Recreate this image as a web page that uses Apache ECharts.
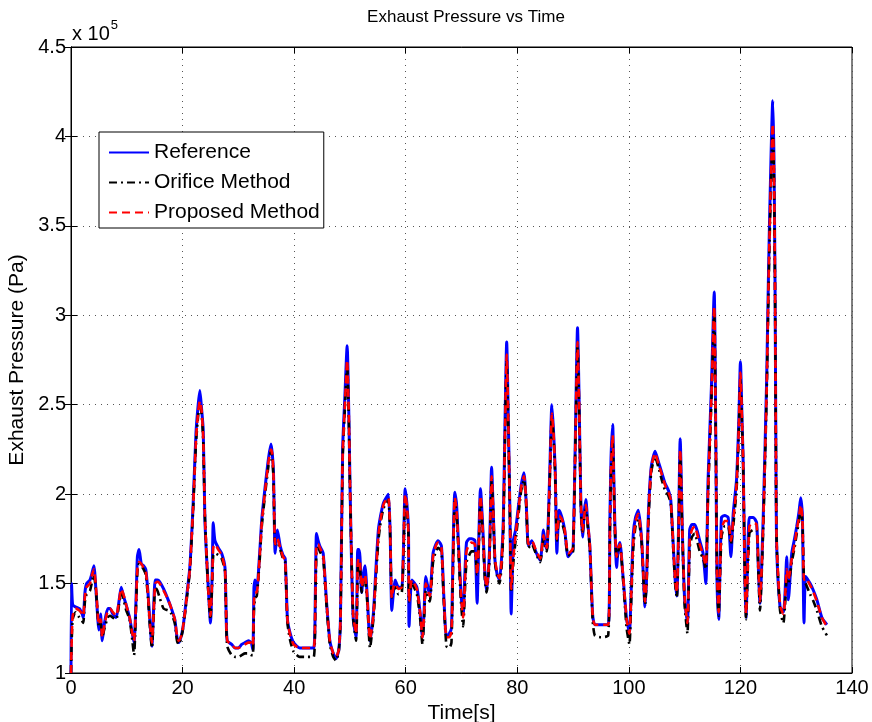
<!DOCTYPE html>
<html>
<head>
<meta charset="utf-8">
<script src="https://cdn.jsdelivr.net/npm/echarts@6/dist/echarts.min.js"></script>
<style>
html,body{margin:0;padding:0;background:#fff;}
#chart{width:872px;height:722px;}
</style>
</head>
<body>
<div id="chart"></div>
<script>
// Time [s]
var time = [0.0,0.1,0.3,0.8,1.5,2.0,2.2,2.5,2.8,3.4,3.7,4.1,4.5,5.0,5.3,5.6,6.0,6.6,7.0,7.5,8.1,8.6,9.0,9.5,9.9,10.5,11.0,11.3,11.7,11.9,12.2,12.6,13.0,13.4,13.8,14.1,14.5,14.8,15.1,15.5,15.9,16.6,17.4,18.0,18.6,19.0,19.3,19.7,20.1,20.7,21.3,21.9,22.4,22.8,23.1,23.4,23.7,24.0,24.3,24.6,25.0,25.3,25.5,25.8,26.4,27.0,27.6,27.8,28.0,28.8,29.4,30.0,30.6,31.2,31.8,32.3,32.6,32.8,33.0,33.3,33.8,34.2,34.8,35.4,35.85,36.1,36.3,36.6,37.0,37.5,38.0,38.4,38.8,39.3,39.9,41.0,42.3,43.5,43.8,44.0,44.3,44.6,45.2,45.8,46.4,47.0,47.5,48.0,48.3,48.7,49.1,49.5,49.8,50.0,50.3,50.6,51.1,51.4,51.6,51.8,52.1,52.4,52.7,53.1,53.6,54.2,54.6,55.1,55.5,56.0,56.5,56.9,57.2,57.5,57.8,58.1,58.7,59.3,59.6,59.9,60.2,60.5,60.6,61.1,62.0,62.6,63.0,63.3,63.6,64.3,64.9,65.4,65.8,66.4,66.8,67.3,67.8,68.2,68.5,68.8,69.1,69.4,69.9,70.3,70.6,70.9,71.4,71.8,72.4,72.8,73.1,73.4,73.9,74.2,74.5,75.0,75.4,75.7,76.0,76.4,76.8,77.2,77.5,77.8,78.1,78.4,78.7,78.9,79.3,79.7,80.2,80.7,81.2,81.6,82.0,82.6,83.3,84.1,84.7,85.0,85.3,85.8,86.2,86.5,86.8,87.1,87.5,88.0,88.5,89.1,89.6,90.0,90.4,90.8,91.1,91.4,91.7,92.0,92.3,92.6,93.0,93.5,93.9,95.0,96.3,96.6,96.8,97.1,97.3,97.5,97.8,98.1,98.4,98.9,99.6,100.1,100.4,100.8,101.2,101.7,102.3,102.9,103.2,103.5,104.0,104.7,105.3,105.9,106.5,107.1,107.5,107.9,108.3,108.6,108.9,109.2,109.6,110.0,110.5,110.9,111.3,111.8,112.3,112.7,113.3,113.8,114.2,114.8,115.3,115.6,115.8,116.1,116.6,117.2,117.8,118.3,118.7,119.3,119.7,120.0,120.3,120.5,120.8,121.0,121.6,122.3,122.9,123.2,123.5,124.1,124.7,124.9,125.2,125.8,126.0,126.2,126.35,126.5,127.1,127.7,128.0,128.3,128.6,129.2,129.7,130.1,130.5,130.8,131.1,131.4,131.7,132.5,133.1,133.7,134.6,135.5];

// Exhaust pressure, in units of 10^5 Pa
var reference = [1.00,1.50,1.38,1.37,1.36,1.33,1.31,1.45,1.50,1.52,1.55,1.60,1.45,1.24,1.33,1.18,1.28,1.36,1.36,1.33,1.31,1.40,1.48,1.42,1.38,1.31,1.22,1.17,1.45,1.65,1.69,1.61,1.60,1.58,1.45,1.31,1.15,1.35,1.52,1.52,1.51,1.47,1.41,1.36,1.30,1.20,1.17,1.20,1.26,1.42,1.59,1.95,2.34,2.50,2.58,2.48,2.36,1.86,1.65,1.48,1.28,1.55,1.84,1.74,1.70,1.67,1.59,1.35,1.18,1.16,1.14,1.14,1.16,1.17,1.18,1.17,1.13,1.48,1.52,1.46,1.66,1.86,2.04,2.20,2.28,2.22,2.12,1.67,1.80,1.71,1.66,1.64,1.30,1.22,1.17,1.14,1.14,1.14,1.45,1.78,1.74,1.71,1.67,1.40,1.18,1.11,1.08,1.13,1.30,2.26,2.55,2.83,2.45,2.08,1.60,1.30,1.20,1.69,1.69,1.65,1.45,1.55,1.60,1.43,1.18,1.33,1.55,1.80,1.88,1.95,1.98,2.00,1.80,1.35,1.45,1.52,1.48,1.48,1.70,2.03,1.95,1.80,1.26,1.52,1.48,1.33,1.20,1.35,1.54,1.43,1.67,1.72,1.74,1.71,1.45,1.20,1.22,1.25,1.70,2.01,1.95,1.76,1.45,1.33,1.55,1.73,1.75,1.75,1.74,1.39,1.75,2.03,1.76,1.55,1.46,1.67,2.15,1.90,1.63,1.55,1.52,1.65,1.86,2.40,2.85,2.40,1.86,1.33,1.74,1.80,1.93,2.05,2.12,1.95,1.71,1.74,1.68,1.63,1.80,1.72,1.69,2.10,2.50,2.35,2.13,1.67,1.91,1.87,1.80,1.65,1.67,1.69,2.30,2.93,2.50,1.95,1.76,1.90,1.97,1.85,1.71,1.33,1.27,1.27,1.27,1.86,2.20,2.39,2.10,1.82,1.59,1.70,1.73,1.56,1.30,1.23,1.45,1.78,1.87,1.91,1.74,1.37,1.55,1.89,2.15,2.24,2.18,2.12,2.06,2.02,1.97,1.75,1.52,1.43,1.80,2.31,1.78,1.41,1.28,1.80,1.83,1.83,1.79,1.74,1.67,1.50,2.08,2.60,3.13,2.26,1.52,1.30,1.87,1.88,1.87,1.65,1.89,2.08,2.40,2.74,2.40,2.17,1.52,1.31,1.87,1.87,1.84,1.60,1.39,1.89,2.64,3.00,3.50,4.20,3.90,3.20,2.30,1.71,1.37,1.34,1.45,1.65,1.41,1.67,1.75,1.82,1.90,1.98,1.89,1.28,1.54,1.50,1.46,1.41,1.31,1.27];

var orifice = [1.00,1.15,1.30,1.34,1.31,1.29,1.28,1.40,1.44,1.46,1.50,1.55,1.45,1.26,1.28,1.20,1.25,1.31,1.32,1.31,1.30,1.38,1.45,1.40,1.35,1.30,1.18,1.10,1.40,1.57,1.61,1.60,1.58,1.55,1.42,1.28,1.14,1.30,1.48,1.46,1.42,1.36,1.35,1.33,1.28,1.18,1.16,1.19,1.25,1.40,1.57,1.92,2.28,2.44,2.50,2.45,2.30,1.88,1.66,1.46,1.30,1.50,1.66,1.67,1.66,1.64,1.57,1.33,1.15,1.10,1.09,1.09,1.10,1.11,1.11,1.10,1.10,1.35,1.42,1.43,1.62,1.82,2.00,2.16,2.24,2.20,2.08,1.72,1.73,1.69,1.64,1.62,1.28,1.18,1.12,1.09,1.09,1.09,1.38,1.68,1.70,1.68,1.64,1.38,1.16,1.09,1.07,1.12,1.28,2.20,2.48,2.72,2.42,2.05,1.62,1.30,1.18,1.58,1.62,1.60,1.45,1.50,1.52,1.40,1.14,1.30,1.50,1.74,1.84,1.92,1.95,1.97,1.78,1.42,1.47,1.48,1.44,1.45,1.68,1.98,1.92,1.76,1.40,1.50,1.44,1.30,1.16,1.30,1.46,1.40,1.62,1.68,1.70,1.68,1.42,1.15,1.14,1.17,1.62,1.96,1.90,1.72,1.40,1.26,1.45,1.62,1.66,1.68,1.68,1.55,1.72,1.97,1.72,1.52,1.45,1.62,2.08,1.88,1.62,1.54,1.50,1.60,1.80,2.32,2.75,2.36,1.85,1.45,1.62,1.74,1.88,2.02,2.08,1.94,1.70,1.72,1.67,1.62,1.75,1.70,1.68,2.05,2.43,2.32,2.10,1.74,1.86,1.84,1.78,1.66,1.66,1.68,2.25,2.83,2.46,1.93,1.78,1.86,1.92,1.83,1.70,1.30,1.21,1.20,1.21,1.78,2.12,2.30,2.06,1.80,1.64,1.68,1.71,1.55,1.25,1.16,1.38,1.70,1.82,1.86,1.72,1.38,1.52,1.84,2.12,2.21,2.15,2.08,2.02,1.99,1.95,1.73,1.50,1.42,1.75,2.22,1.76,1.38,1.22,1.70,1.76,1.78,1.73,1.68,1.64,1.58,2.00,2.52,3.02,2.25,1.55,1.32,1.76,1.82,1.82,1.72,1.82,2.02,2.34,2.64,2.38,2.15,1.52,1.30,1.78,1.80,1.80,1.58,1.35,1.82,2.55,2.90,3.38,4.02,3.80,3.15,2.28,1.72,1.35,1.28,1.38,1.52,1.50,1.62,1.70,1.78,1.85,1.92,1.85,1.52,1.50,1.44,1.40,1.35,1.26,1.21];

var proposed = [1.00,1.15,1.32,1.36,1.35,1.33,1.32,1.43,1.48,1.50,1.54,1.58,1.47,1.27,1.30,1.20,1.27,1.35,1.36,1.34,1.32,1.40,1.47,1.43,1.38,1.31,1.22,1.18,1.42,1.58,1.62,1.61,1.59,1.57,1.44,1.30,1.17,1.33,1.50,1.51,1.50,1.46,1.41,1.36,1.30,1.21,1.18,1.20,1.26,1.41,1.58,1.93,2.30,2.46,2.52,2.47,2.32,1.88,1.66,1.47,1.32,1.52,1.70,1.72,1.69,1.66,1.58,1.35,1.18,1.16,1.14,1.14,1.15,1.16,1.17,1.17,1.15,1.40,1.45,1.45,1.64,1.84,2.02,2.18,2.25,2.22,2.10,1.72,1.75,1.70,1.65,1.63,1.30,1.21,1.16,1.14,1.14,1.14,1.40,1.72,1.72,1.70,1.66,1.40,1.18,1.11,1.09,1.13,1.29,2.22,2.50,2.75,2.44,2.07,1.62,1.32,1.22,1.62,1.64,1.62,1.48,1.52,1.55,1.42,1.19,1.32,1.52,1.77,1.86,1.94,1.97,1.98,1.80,1.42,1.48,1.50,1.47,1.48,1.70,2.00,1.94,1.78,1.40,1.52,1.47,1.33,1.20,1.33,1.50,1.43,1.65,1.71,1.73,1.70,1.45,1.20,1.20,1.23,1.65,1.98,1.92,1.75,1.44,1.31,1.50,1.68,1.72,1.73,1.72,1.55,1.72,1.99,1.75,1.55,1.48,1.65,2.10,1.90,1.64,1.56,1.53,1.63,1.83,2.35,2.78,2.38,1.87,1.47,1.65,1.77,1.91,2.04,2.10,1.96,1.72,1.74,1.69,1.64,1.77,1.72,1.70,2.07,2.45,2.34,2.12,1.75,1.88,1.86,1.80,1.67,1.68,1.70,2.27,2.85,2.48,1.95,1.79,1.88,1.94,1.85,1.72,1.33,1.27,1.27,1.27,1.82,2.15,2.33,2.08,1.82,1.65,1.70,1.72,1.57,1.30,1.22,1.42,1.74,1.85,1.89,1.74,1.40,1.54,1.87,2.14,2.23,2.17,2.11,2.05,2.01,1.97,1.75,1.52,1.45,1.78,2.25,1.78,1.42,1.28,1.74,1.80,1.82,1.77,1.72,1.66,1.60,2.02,2.55,3.05,2.27,1.56,1.34,1.80,1.85,1.85,1.74,1.85,2.05,2.36,2.68,2.40,2.17,1.54,1.33,1.82,1.84,1.83,1.61,1.40,1.85,2.58,2.93,3.42,4.07,3.85,3.18,2.30,1.73,1.38,1.33,1.42,1.58,1.52,1.64,1.72,1.80,1.87,1.94,1.87,1.52,1.53,1.49,1.45,1.40,1.31,1.26];

var xTicks = [0, 20, 40, 60, 80, 100, 120, 140];
var yTicks = [1, 1.5, 2, 2.5, 3, 3.5, 4, 4.5];

var FONT = '"Liberation Sans", Arial, Helvetica, sans-serif';

function pairs(vals) { return time.map(function (t, i) { return [t, vals[i]]; }); }

var chart = echarts.init(document.getElementById('chart'), null, {renderer: 'canvas'});

var gridSplit = {show: true, lineStyle: {color: '#555', width: 1, type: [1, 5]}};

chart.setOption({
  animation: false,
  backgroundColor: '#fff',
  title: {
    text: 'Exhaust Pressure vs Time',
    left: 461, top: 4, textAlign: 'center',
    textStyle: {fontFamily: FONT, fontSize: 17, fontWeight: 'normal', color: '#000'}
  },
  grid: {left: 71, right: 20, top: 47, bottom: 49, show: true, borderColor: '#000', borderWidth: 1,
    containLabel: false, outerBoundsMode: 'none'},
  legend: {
    orient: 'vertical',
    left: 99, top: 132,
    backgroundColor: '#fff',
    borderColor: '#000', borderWidth: 1,
    padding: [10, 4, 5, 9],
    itemWidth: 40, itemHeight: 20, itemGap: 9,
    itemStyle: {opacity: 0},
    textStyle: {fontFamily: FONT, fontSize: 21, color: '#000', padding: [0, 0, 0, 0]},
    data: ['Reference', 'Orifice Method', 'Proposed Method']
  },
  xAxis: [{
    type: 'value', min: 0, max: 140, interval: 20,
    name: 'Time[s]', nameLocation: 'middle', nameGap: 24,
    nameTextStyle: {fontFamily: FONT, fontSize: 21, color: '#000'},
    axisLine: {show: true, lineStyle: {color: '#000', width: 1}},
    axisTick: {show: true, inside: true, length: 6, lineStyle: {color: '#000'}},
    axisLabel: {fontFamily: FONT, fontSize: 20, color: '#000', margin: 5,
      formatter: function (v) { return xTicks.indexOf(v) >= 0 ? String(v) : ''; }},
    splitLine: gridSplit
  }, {
    type: 'value', min: 0, max: 140, interval: 20, position: 'top',
    axisLine: {show: true, lineStyle: {color: '#000'}},
    axisTick: {show: true, inside: true, length: 6, lineStyle: {color: '#000'}},
    axisLabel: {show: false}, splitLine: {show: false}
  }],
  yAxis: [{
    type: 'value', min: 1, max: 4.5, interval: 0.5,
    name: 'Exhaust Pressure (Pa)', nameLocation: 'middle', nameGap: 35,
    nameTextStyle: {fontFamily: FONT, fontSize: 21, color: '#000'},
    axisLine: {show: true, lineStyle: {color: '#000', width: 1}},
    axisTick: {show: true, inside: true, length: 6, lineStyle: {color: '#000'}},
    axisLabel: {fontFamily: FONT, fontSize: 20, color: '#000', margin: 5,
      formatter: function (v) { return yTicks.indexOf(v) >= 0 ? String(v) : ''; }},
    splitLine: gridSplit
  }, {
    type: 'value', min: 1, max: 4.5, interval: 0.5, position: 'right',
    axisLine: {show: true, lineStyle: {color: '#000'}},
    axisTick: {show: true, inside: true, length: 6, lineStyle: {color: '#000'}},
    axisLabel: {show: false}, splitLine: {show: false}
  }],
  graphic: [{
    type: 'text', left: 72, top: 19,
    style: {
      text: '{a|x 10}{b|5}',
      rich: {
        a: {fontFamily: FONT, fontSize: 20, color: '#000', verticalAlign: 'bottom', padding: [5, 0, 0, 0]},
        b: {fontFamily: FONT, fontSize: 13, color: '#000', verticalAlign: 'top', padding: [0, 0, 8, 1]}
      }
    }
  }],
  series: [{
    name: 'Reference', type: 'line', symbol: 'none', smooth: 0.2,
    data: pairs(reference),
    lineStyle: {color: '#0000ff', width: 3, type: 'solid'},
    itemStyle: {color: '#0000ff'}, z: 2
  }, {
    name: 'Orifice Method', type: 'line', symbol: 'none', smooth: 0.2,
    data: pairs(orifice),
    lineStyle: {color: '#000000', width: 2.6, type: [8, 4, 2, 4]},
    itemStyle: {color: '#000000'}, z: 3
  }, {
    name: 'Proposed Method', type: 'line', symbol: 'none', smooth: 0.2,
    data: pairs(proposed),
    lineStyle: {color: '#ff0000', width: 2.6, type: [8, 5]},
    itemStyle: {color: '#ff0000'}, z: 4
  }]
});
</script>
</body>
</html>
